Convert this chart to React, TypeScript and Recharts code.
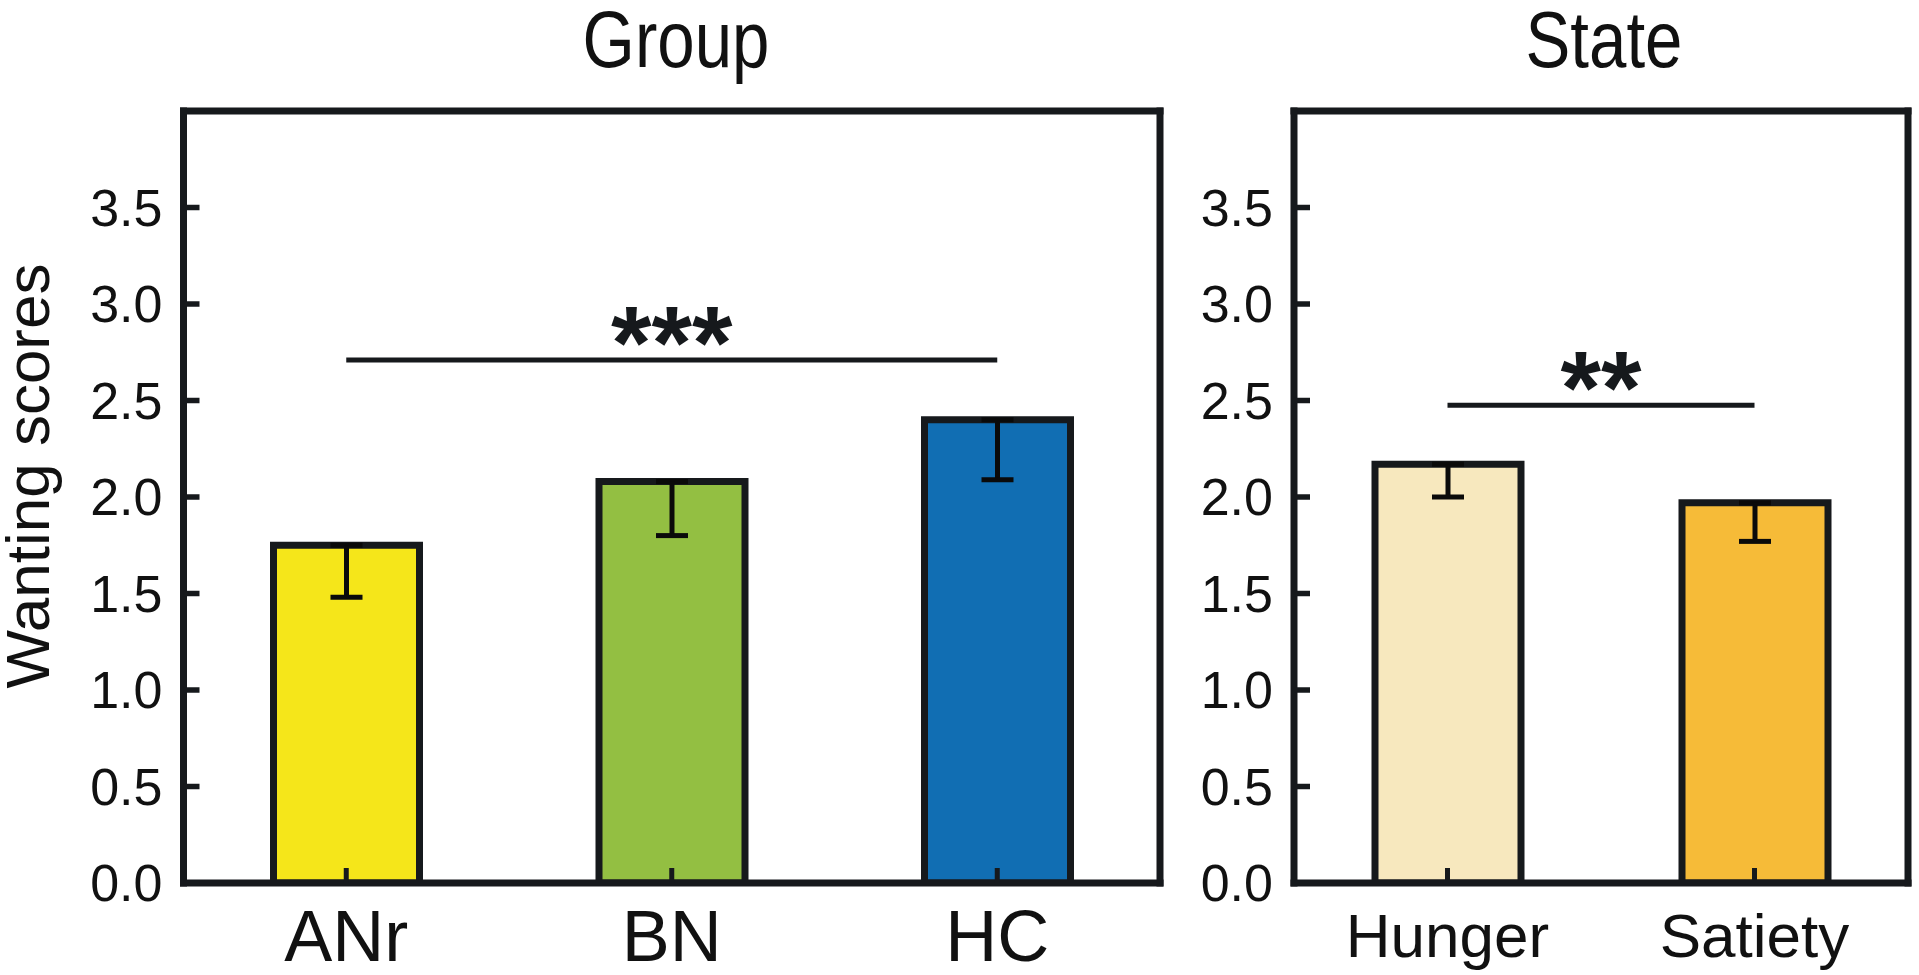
import React from 'react';
import { BarChart, Bar, XAxis, YAxis, Cell, ErrorBar, ReferenceLine } from 'recharts';

const groupCategories = ['ANr', 'BN', 'HC'];
const groupMeans = [1.75, 2.08, 2.4];
const groupErrLow = [0.27, 0.28, 0.31];
const groupColors = ['#F5E61A', '#93BF42', '#116EB3'];

const stateCategories = ['Hunger', 'Satiety'];
const stateMeans = [2.17, 1.97];
const stateErrLow = [0.17, 0.2];
const stateColors = ['#F7E8BE', '#F6BB38'];

const yTicks = [0, 0.5, 1, 1.5, 2, 2.5, 3, 3.5];
const yDomain = [0, 4];

const groupSig = { from: 'ANr', to: 'HC', y: 2.71, label: '***' };
const stateSig = { from: 'Hunger', to: 'Satiety', y: 2.475, label: '**' };

const INK = '#16191c';
const FONT = "'Liberation Sans', Arial, Helvetica, sans-serif";

const groupData = groupCategories.map((name, i) => ({ name, value: groupMeans[i], err: [groupErrLow[i], 0] }));
const stateData = stateCategories.map((name, i) => ({ name, value: stateMeans[i], err: [stateErrLow[i], 0] }));

const SigLabel = (props: any) => {
  const vb = props.viewBox || {};
  let cx: number;
  let cy: number;
  if (vb.x1 !== undefined) {
    cx = (vb.x1 + vb.x2) / 2;
    cy = Math.min(vb.y1, vb.y2);
  } else {
    cx = vb.x + (vb.width || 0) / 2;
    cy = vb.y;
  }
  return (
    <text x={cx} y={cy + 19} textAnchor="middle" fontSize={104} fontWeight="bold" fill={INK} fontFamily={FONT}>
      {props.text}
    </text>
  );
};

const YLabel = (props: any) => {
  const vb = props.viewBox || { x: 0, y: 0, width: 0, height: 0 };
  const x = vb.x + 49;
  const y = vb.y + vb.height / 2 - 21;
  return (
    <text
      x={x}
      y={y}
      transform={`rotate(-90, ${x}, ${y})`}
      textAnchor="middle"
      fontSize={62}
      fill="#111"
      fontFamily={FONT}
    >
      Wanting scores
    </text>
  );
};

type PanelProps = {
  data: any[];
  colors: string[];
  width: number;
  left: number;
  yAxisWidth: number;
  marginRight: number;
  xFont: number;
  xTickMargin: number;
  sig: { from: string; to: string; y: number; label: string };
  showYLabel: boolean;
};

const frameLine = { stroke: INK, strokeWidth: 7, strokeLinecap: 'square' as const };

const Panel = (p: PanelProps) => (
  <div style={{ position: 'absolute', left: p.left, top: 0 }}>
    <BarChart
      width={p.width}
      height={975}
      data={p.data}
      margin={{ top: 110, right: p.marginRight - 1, bottom: 0, left: 0 }}
      barSize={146}
    >
      <XAxis
        dataKey="name"
        height={92}
        interval={0}
        axisLine={frameLine}
        tickLine={{ stroke: INK, strokeWidth: 5 }}
        tickSize={-15}
        tickMargin={p.xTickMargin}
        tick={{ fill: '#111', fontSize: p.xFont, fontFamily: FONT }}
      />
      <XAxis
        xAxisId="top"
        orientation="top"
        dataKey="name"
        height={1}
        interval={0}
        tick={false}
        tickLine={false}
        axisLine={frameLine}
      />
      <YAxis
        type="number"
        domain={yDomain}
        ticks={yTicks}
        interval={0}
        width={p.yAxisWidth}
        allowDataOverflow
        axisLine={frameLine}
        tickLine={{ stroke: INK, strokeWidth: 5.5 }}
        tickSize={-16}
        tickMargin={37}
        tickFormatter={(v: number) => v.toFixed(1)}
        tick={{ fill: '#111', fontSize: 52, fontFamily: FONT }}
        label={p.showYLabel ? <YLabel /> : undefined}
      />
      <YAxis
        yAxisId="right"
        orientation="right"
        type="number"
        domain={yDomain}
        ticks={yTicks}
        width={1}
        tick={false}
        tickLine={false}
        axisLine={frameLine}
      />
      <Bar dataKey="value" stroke={INK} strokeWidth={7} isAnimationActive={false}>
        {p.data.map((d, i) => (
          <Cell key={d.name} fill={p.colors[i]} />
        ))}
        <ErrorBar dataKey="err" direction="y" width={16} strokeWidth={5} stroke="#0a0a0a" isAnimationActive={false} />
      </Bar>
      <ReferenceLine
        segment={[
          { x: p.sig.from, y: p.sig.y },
          { x: p.sig.to, y: p.sig.y },
        ]}
        stroke={INK}
        strokeWidth={5}
        ifOverflow="visible"
        label={<SigLabel text={p.sig.label} />}
      />
    </BarChart>
  </div>
);

const titleStyle = (center: number): React.CSSProperties => ({
  position: 'absolute',
  left: center - 300,
  top: 0,
  width: 600,
  textAlign: 'center',
  fontSize: 80,
  lineHeight: '80px',
  fontFamily: FONT,
  color: '#111',
  transform: 'scaleX(0.84)',
  transformOrigin: 'center',
});

export default function App() {
  return (
    <div style={{ position: 'relative', width: 1919, height: 975, background: '#fff', fontFamily: FONT, overflow: 'hidden' }}>
      <style>{'body{margin:0;}'}</style>
      <div style={titleStyle(675.5)}>Group</div>
      <div style={titleStyle(1604)}>State</div>
      <Panel
        data={groupData}
        colors={groupColors}
        width={1200}
        left={0}
        yAxisWidth={183.5}
        marginRight={40}
        xFont={72}
        xTickMargin={42}
        sig={groupSig}
        showYLabel={true}
      />
      <Panel
        data={stateData}
        colors={stateColors}
        width={719}
        left={1200}
        yAxisWidth={94}
        marginRight={11}
        xFont={62}
        xTickMargin={45}
        sig={stateSig}
        showYLabel={false}
      />
    </div>
  );
}
